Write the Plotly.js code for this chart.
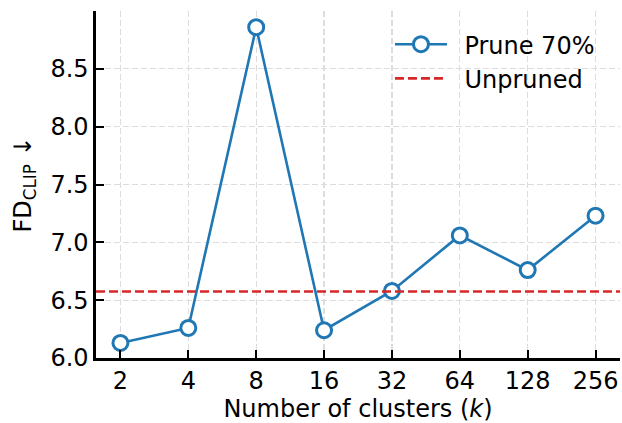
<!DOCTYPE html>
<html>
<head>
<meta charset="utf-8">
<script src="https://cdn.plot.ly/plotly-3.0.1.min.js"></script>
<style>html,body{margin:0;padding:0;background:#fff;}#chart{width:622px;height:423px;}</style>
</head>
<body>
<div id="chart"></div>
<script>
const clusters = ["2", "4", "8", "16", "32", "64", "128", "256"];
const prune70 = [6.13, 6.26, 8.86, 6.24, 6.58, 7.06, 6.76, 7.23];
const unpruned = 6.575;
const yTicks = [6.0, 6.5, 7.0, 7.5, 8.0, 8.5];

const FONT = "DejaVu Sans, sans-serif";
const FS = 24;
const GAP = "\u00A0\u2009";
const idx = clusters.map((_, i) => i);

const traces = [{
  x: idx, y: prune70, type: "scatter", mode: "lines+markers", name: GAP + "Prune 70%",
  line: {color: "#1f77b4", width: 2.6},
  marker: {symbol: "circle", size: 15, color: "#ffffff", line: {color: "#1f77b4", width: 3}},
  cliponaxis: false
}];

const layout = {
  width: 622, height: 423,
  margin: {l: 96, r: 2, t: 11, b: 65, pad: 0},
  paper_bgcolor: "#fff", plot_bgcolor: "#fff",
  font: {family: FONT, size: FS, color: "#000"},
  showlegend: true,
  legend: {x: 0.561, y: 0.968, xanchor: "left", yanchor: "top", bgcolor: "rgba(255,255,255,0)",
           font: {family: FONT, size: FS, color: "#000"}, tracegroupgap: 0, itemwidth: 52},
  xaxis: {
    range: [-0.36, 7.36], tickmode: "array", tickvals: idx, ticktext: clusters,
    ticks: "inside", ticklen: 8, tickwidth: 2, tickcolor: "#000",
    showline: true, linecolor: "#000", linewidth: 2.6, mirror: false,
    showgrid: true, gridcolor: "#dddddd", gridwidth: 1.3, griddash: "6px,3px",
    zeroline: false, tickfont: {family: FONT, size: FS},
    title: {text: "Number of clusters (<i>k</i>)", font: {family: FONT, size: FS}, standoff: 10}
  },
  yaxis: {
    range: [6.0, 9.0], tickmode: "array", tickvals: yTicks, tickformat: ".1f",
    ticks: "inside", ticklen: 8, tickwidth: 2, tickcolor: "#000",
    showline: true, linecolor: "#000", linewidth: 2.6, mirror: false,
    showgrid: true, gridcolor: "#dddddd", gridwidth: 1.3, griddash: "6px,3px",
    zeroline: false, tickfont: {family: FONT, size: FS},
    title: {text: "FD<sub>CLIP</sub> ↓", font: {family: FONT, size: FS}, standoff: 12}
  },
  shapes: [{
    type: "line", xref: "paper", x0: 0, x1: 1, yref: "y", y0: unpruned, y1: unpruned,
    line: {color: "#d62728", width: 2.6, dash: "9px,4px"}, layer: "above",
    showlegend: true, name: GAP + "Unpruned"
  }]
};

Plotly.newPlot("chart", traces, layout, {displayModeBar: false, staticPlot: true});
</script>
</body>
</html>
